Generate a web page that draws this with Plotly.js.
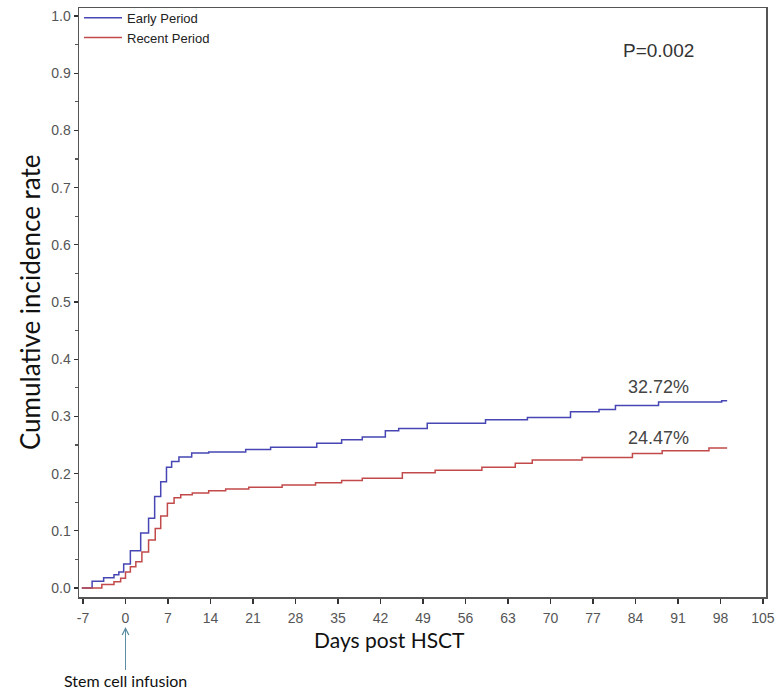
<!DOCTYPE html>
<html>
<head>
<meta charset="utf-8">
<script src="https://cdn.plot.ly/plotly-3.0.1.min.js"></script>
<style>html,body{margin:0;padding:0;background:#fff;}#chart{width:781px;height:692px;}</style>
</head>
<body>
<div id="chart"></div>
<script>
// Early Period cumulative incidence (step function)
const earlyDays = [-7.2, -5.5, -3.6, -1.9, -1.1, -0.3, 0.8, 2.5, 3.8, 4.8, 5.8, 6.75, 7.6, 8.8, 10.9, 13.7, 19.8, 23.9, 31.5, 35.6, 39.0, 42.8, 45.0, 49.7, 59.3, 66.2, 73.3, 78.0, 80.7, 87.8, 98.2, 99.1];
const earlyRate = [0.000, 0.012, 0.018, 0.023, 0.028, 0.042, 0.065, 0.096, 0.122, 0.160, 0.186, 0.211, 0.221, 0.229, 0.236, 0.238, 0.242, 0.246, 0.253, 0.259, 0.264, 0.275, 0.279, 0.288, 0.294, 0.298, 0.308, 0.312, 0.319, 0.325, 0.3272, 0.3272];
// Recent Period cumulative incidence (step function)
const recentDays = [-7.2, -3.9, -1.9, -0.8, 0.0, 0.8, 1.7, 2.7, 3.8, 4.9, 5.8, 6.9, 8.0, 9.1, 11.0, 13.7, 16.5, 20.3, 25.8, 31.3, 35.6, 39.0, 45.6, 51.0, 58.7, 64.2, 67.0, 75.2, 83.5, 88.4, 96.1, 99.1];
const recentRate = [0.000, 0.006, 0.011, 0.017, 0.028, 0.037, 0.046, 0.063, 0.084, 0.104, 0.126, 0.148, 0.158, 0.163, 0.166, 0.170, 0.173, 0.176, 0.180, 0.184, 0.188, 0.192, 0.2015, 0.206, 0.211, 0.218, 0.224, 0.228, 0.235, 0.240, 0.2447, 0.2447];

const seriesNames = ["Early Period", "Recent Period"];
const xTicks = [-7, 0, 7, 14, 21, 28, 35, 42, 49, 56, 63, 70, 77, 84, 91, 98, 105];
const yTicks = [0, 0.1, 0.2, 0.3, 0.4, 0.5, 0.6, 0.7, 0.8, 0.9, 1.0];
const finalLabels = ["32.72%", "24.47%"];
const pValueText = "P=0.002";

const traces = [
  {x: earlyDays, y: earlyRate, name: seriesNames[0], type: 'scatter', mode: 'lines',
   line: {shape: 'hv', color: '#4646b4', width: 1.5}},
  {x: recentDays, y: recentRate, name: seriesNames[1], type: 'scatter', mode: 'lines',
   line: {shape: 'hv', color: '#c24a4a', width: 1.5}}
];

const tickFont = {family: 'Arial, "Liberation Sans", sans-serif', size: 14, color: '#555'};

const layout = {
  width: 781, height: 692,
  margin: {l: 79, r: 15, t: 8, b: 95, autoexpand: false},
  paper_bgcolor: '#fff', plot_bgcolor: '#fff',
  showlegend: true,
  legend: {x: 0.0, y: 1.009, xanchor: 'left', yanchor: 'top', bgcolor: 'rgba(0,0,0,0)',
           font: {family: 'Arial, "Liberation Sans", sans-serif', size: 13, color: '#222'},
           tracegroupgap: 0, itemwidth: 38},
  xaxis: {range: [-7.66, 105.5], tickvals: xTicks, ticktext: xTicks.map(String),
          ticks: 'outside', ticklen: 5, tickcolor: '#333', tickwidth: 1.2, ticklabelstandoff: 3,
          showline: true, linecolor: '#555', linewidth: 1.5, mirror: true,
          showgrid: false, zeroline: false, tickfont: tickFont},
  yaxis: {range: [-0.0157, 1.014], tickvals: yTicks, ticktext: yTicks.map(v => v.toFixed(1)),
          ticks: 'outside', ticklen: 4, tickcolor: '#333', tickwidth: 1.2,
          minor: {dtick: 0.05, tick0: 0, ticks: 'outside', ticklen: 3, tickcolor: '#555'},
          showline: true, linecolor: '#555', linewidth: 1.5, mirror: true,
          showgrid: false, zeroline: false, tickfont: tickFont},
  annotations: [
    {xref: 'paper', yref: 'paper', x: -0.072, y: 0.5, text: 'Cumulative incidence rate',
     textangle: -90, showarrow: false, xanchor: 'center', yanchor: 'middle',
     font: {family: 'Lato, "Open Sans", sans-serif', size: 26, color: '#111'}},
    {xref: 'x', yref: 'paper', x: 43.5, y: -0.073, text: 'Days post HSCT', showarrow: false,
     font: {family: 'Lato, "Open Sans", sans-serif', size: 21, color: '#111'}, xanchor: 'center', yanchor: 'middle'},
    {xref: 'x', yref: 'paper', x: 0, y: -0.0509, text: 'Stem cell infusion', showarrow: true,
     arrowhead: 5, arrowsize: 1.3, arrowwidth: 1, arrowcolor: '#5b8ea3', ax: 0, ay: 54,
     font: {family: 'Lato, "Open Sans", sans-serif', size: 16, color: '#111'}},
    {xref: 'x', yref: 'y', x: earlyDays[earlyDays.length - 1], y: earlyRate[earlyRate.length - 1],
     text: finalLabels[0], showarrow: false, xanchor: 'center', yanchor: 'middle', xshift: -69, yshift: 14,
     font: {family: 'Arial, "Liberation Sans", sans-serif', size: 18, color: '#444'}},
    {xref: 'x', yref: 'y', x: recentDays[recentDays.length - 1], y: recentRate[recentRate.length - 1],
     text: finalLabels[1], showarrow: false, xanchor: 'center', yanchor: 'middle', xshift: -69, yshift: 10,
     font: {family: 'Arial, "Liberation Sans", sans-serif', size: 18, color: '#444'}},
    {xref: 'paper', yref: 'paper', x: 0.843, y: 0.928, text: pValueText, showarrow: false,
     xanchor: 'center', yanchor: 'middle',
     font: {family: 'Arial, "Liberation Sans", sans-serif', size: 19, color: '#333'}}
  ]
};

Plotly.newPlot('chart', traces, layout, {displayModeBar: false, staticPlot: true});
</script>
</body>
</html>
